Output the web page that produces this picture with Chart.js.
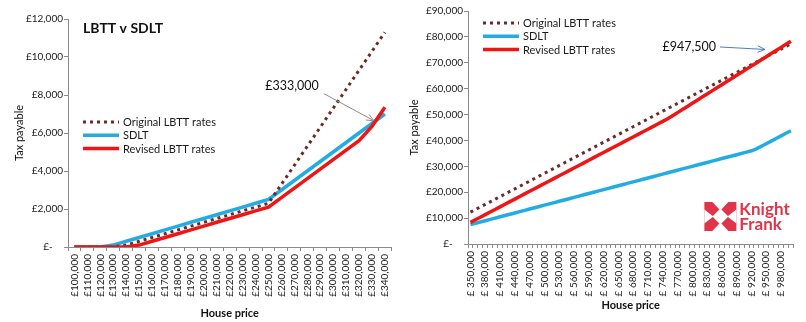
<!DOCTYPE html>
<html><head><meta charset="utf-8">
<script src="https://cdn.jsdelivr.net/npm/chart.js@4.4.0/dist/chart.umd.min.js"></script>
<style>
html,body{margin:0;padding:0;background:#fff;}
#wrap{position:relative;width:806px;height:322px;overflow:hidden;background:#fff;}
.box{position:absolute;top:0;height:322px;}
#b1{left:0;width:400px}
#b2{left:400px;width:406px}
</style></head><body>
<div id="wrap"><div class="box" id="b1"><canvas id="c1"></canvas></div><div class="box" id="b2"><canvas id="c2"></canvas></div></div>
<script>
// ---------- DATA ----------
const seriesNames = ['Original LBTT rates', 'SDLT', 'Revised LBTT rates'];

const leftCategories = ['£100,000','£110,000','£120,000','£130,000','£140,000','£150,000','£160,000','£170,000','£180,000','£190,000','£200,000','£210,000','£220,000','£230,000','£240,000','£250,000','£260,000','£270,000','£280,000','£290,000','£300,000','£310,000','£320,000','£330,000','£340,000'];
const leftOriginal = [0,0,0,0,100,300,500,700,900,1100,1300,1500,1700,1900,2100,2300,3300,4300,5300,6300,7300,8300,9300,10300,11300];
const leftSDLT     = [0,0,0,100,300,500,700,900,1100,1300,1500,1700,1900,2100,2300,2500,3000,3500,4000,4500,5000,5500,6000,6500,7000];
const leftRevised  = [0,0,0,0,0,100,300,500,700,900,1100,1300,1500,1700,1900,2100,2600,3100,3600,4100,4600,5100,5600,6350,7350];
const leftYTicks = [0,2000,4000,6000,8000,10000,12000];

const rightCategories = ['£ 350,000','£ 360,000','£ 370,000','£ 380,000','£ 390,000','£ 400,000','£ 410,000','£ 420,000','£ 430,000','£ 440,000','£ 450,000','£ 460,000','£ 470,000','£ 480,000','£ 490,000','£ 500,000','£ 510,000','£ 520,000','£ 530,000','£ 540,000','£ 550,000','£ 560,000','£ 570,000','£ 580,000','£ 590,000','£ 600,000','£ 610,000','£ 620,000','£ 630,000','£ 640,000','£ 650,000','£ 660,000','£ 670,000','£ 680,000','£ 690,000','£ 700,000','£ 710,000','£ 720,000','£ 730,000','£ 740,000','£ 750,000','£ 760,000','£ 770,000','£ 780,000','£ 790,000','£ 800,000','£ 810,000','£ 820,000','£ 830,000','£ 840,000','£ 850,000','£ 860,000','£ 870,000','£ 880,000','£ 890,000','£ 900,000','£ 910,000','£ 920,000','£ 930,000','£ 940,000','£ 950,000','£ 960,000','£ 970,000','£ 980,000','£ 990,000','£ 1,000,000'];
const rightOriginal = [12300,13300,14300,15300,16300,17300,18300,19300,20300,21300,
  22300,23300,24300,25300,26300,27300,28300,29300,30300,31300,
  32300,33300,34300,35300,36300,37300,38300,39300,40300,41300,
  42300,43300,44300,45300,46300,47300,48300,49300,50300,51300,
  52300,53300,54300,55300,56300,57300,58300,59300,60300,61300,
  62300,63300,64300,65300,66300,67300,68300,69300,70300,71300,
  72300,73300,74300,75300,76300,77300];
const rightSDLT = [7500,8000,8500,9000,9500,10000,10500,11000,11500,12000,
  12500,13000,13500,14000,14500,15000,15500,16000,16500,17000,
  17500,18000,18500,19000,19500,20000,20500,21000,21500,22000,
  22500,23000,23500,24000,24500,25000,25500,26000,26500,27000,
  27500,28000,28500,29000,29500,30000,30500,31000,31500,32000,
  32500,33000,33500,34000,34500,35000,35500,36000,
  36750,37750,38750,39750,40750,41750,42750,43750];
const rightRevised = [8350,9350,10350,11350,12350,13350,14350,15350,16350,17350,
  18350,19350,20350,21350,22350,23350,24350,25350,26350,27350,
  28350,29350,30350,31350,32350,33350,34350,35350,36350,37350,
  38350,39350,40350,41350,42350,43350,44350,45350,46350,47350,
  48350,49550,50750,51950,53150,54350,55550,56750,57950,59150,
  60350,61550,62750,63950,65150,66350,67550,68750,69950,71150,
  72350,73550,74750,75950,77150,78350];
const rightYTicks = [0,10000,20000,30000,40000,50000,60000,70000,80000,90000];

const leftTitle = 'LBTT v SDLT';
const leftNote = '£333,000';
const rightNote = '£947,500';

// ---------- STYLE ----------
const FONT = 'Lato, "Open Sans", "DejaVu Sans", sans-serif';
Chart.defaults.font.family = FONT;
Chart.defaults.color = '#1a1a1a';
const COL_ORIG = '#6b2a2a', COL_SDLT = '#22ace2', COL_REV = '#ee1515';
const AXIS = '#8a8a8a';

function fmtY(v){ return v === 0 ? '£-\u00a0\u00a0\u00a0\u00a0' : '£' + v.toLocaleString('en-GB'); }

function datasets(o, s, r){
  return [
    {label: seriesNames[0], data: o, borderColor: COL_ORIG, borderWidth: 3, borderDash: [3,4], pointRadius: 0, order: 1, tension: 0},
    {label: seriesNames[1], data: s, borderColor: COL_SDLT, borderWidth: 3.5, pointRadius: 0, order: 2, tension: 0},
    {label: seriesNames[2], data: r, borderColor: COL_REV, borderWidth: 3.5, pointRadius: 0, order: 0, tension: 0}
  ];
}

function drawArrow(ctx, x1, y1, x2, y2, color){
  ctx.save();
  ctx.strokeStyle = color; ctx.lineWidth = 1;
  ctx.beginPath(); ctx.moveTo(x1, y1); ctx.lineTo(x2, y2); ctx.stroke();
  const ang = Math.atan2(y2 - y1, x2 - x1), L = 8, w = 0.42;
  ctx.beginPath();
  ctx.moveTo(x2 - L*Math.cos(ang - w), y2 - L*Math.sin(ang - w));
  ctx.lineTo(x2, y2);
  ctx.lineTo(x2 - L*Math.cos(ang + w), y2 - L*Math.sin(ang + w));
  ctx.stroke();
  ctx.restore();
}

const overlay = {
  id: 'overlay',
  afterDraw(chart, args, o){
    const ctx = chart.ctx, a = chart.chartArea;
    const xs = chart.scales.x, ys = chart.scales.y;
    ctx.save();
    if (o.title){
      ctx.font = 'bold 14px ' + FONT; ctx.fillStyle = '#111';
      ctx.textBaseline = 'middle'; ctx.textAlign = 'left';
      ctx.fillText(o.title, a.left + 15, a.top + 9);
    }
    // legend
    const lx = a.left + o.legend.x;
    chart.data.datasets.forEach((d, i) => {
      const y = a.top + o.legend.y + i*13.3;
      ctx.save();
      ctx.strokeStyle = d.borderColor; ctx.lineWidth = d.borderWidth;
      ctx.setLineDash(d.borderDash || []);
      ctx.beginPath(); ctx.moveTo(lx, y); ctx.lineTo(lx + 36, y); ctx.stroke();
      ctx.restore();
      ctx.font = '11px ' + FONT; ctx.fillStyle = '#1a1a1a';
      ctx.textBaseline = 'middle'; ctx.textAlign = 'left';
      ctx.fillText(d.label, lx + 40, y + 0.5);
    });
    // annotation
    if (o.note){
      const n = o.note;
      const tx = xs.getPixelForValue(n.index) + n.tipDx;
      const ty = ys.getPixelForValue(n.value) + n.tipDy;
      drawArrow(ctx, tx + n.fromDx, ty + n.fromDy, tx, ty, n.color);
      ctx.font = '12.5px ' + FONT; ctx.fillStyle = '#111';
      ctx.textBaseline = 'middle'; ctx.textAlign = 'right';
      ctx.fillText(n.text, tx + n.textDx, ty + n.textDy);
    }
    // logo
    if (o.logo){
      const red = '#e1344a';
      const s = 32, h = 29;
      const x0 = a.right - 89, y0 = a.bottom - 42;
      ctx.fillStyle = red;
      ctx.fillRect(x0, y0, s, h);
      ctx.fillStyle = '#fff';
      const cx = x0 + s/2, cy = y0 + h/2;
      ctx.beginPath();
      ctx.moveTo(cx, cy - 8); ctx.lineTo(cx + 8, cy); ctx.lineTo(cx, cy + 8); ctx.lineTo(cx - 8, cy); ctx.closePath(); ctx.fill();
      // edge notches
      ctx.beginPath(); ctx.moveTo(cx - 8, y0); ctx.lineTo(cx + 8, y0); ctx.lineTo(cx, cy - 6); ctx.closePath(); ctx.fill();
      ctx.beginPath(); ctx.moveTo(cx - 8, y0 + h); ctx.lineTo(cx + 8, y0 + h); ctx.lineTo(cx, cy + 6); ctx.closePath(); ctx.fill();
      ctx.beginPath(); ctx.moveTo(x0, cy - 7); ctx.lineTo(x0, cy + 7); ctx.lineTo(cx - 7, cy); ctx.closePath(); ctx.fill();
      ctx.beginPath(); ctx.moveTo(x0 + s, cy - 7); ctx.lineTo(x0 + s, cy + 7); ctx.lineTo(cx + 7, cy); ctx.closePath(); ctx.fill();
      ctx.fillStyle = red;
      ctx.font = 'bold 17px ' + FONT; ctx.textAlign = 'left'; ctx.textBaseline = 'alphabetic';
      ctx.fillText('Knight', x0 + 35, y0 + 13);
      ctx.fillText('Frank', x0 + 35, y0 + 28);
    }
    ctx.restore();
  }
};

function baseOptions(cfg){
  return {
    responsive: true, maintainAspectRatio: false, animation: false,
    layout: {padding: cfg.padding},
    plugins: {legend: {display: false}, tooltip: {enabled: false}, overlay: cfg.overlay},
    scales: {
      x: {
        type: 'category', offset: true,
        grid: {display: true, drawOnChartArea: false, drawTicks: true, tickLength: 4, color: AXIS, offset: true},
        border: {color: AXIS, width: 1},
        ticks: {autoSkip: false, maxRotation: 90, minRotation: 90, font: {size: 10}, padding: 3, color: '#1a1a1a',
                callback: cfg.xCallback},
        title: {display: true, text: 'House price', font: {size: 11, weight: 'bold'}, color: '#111', padding: cfg.xTitlePad},
        afterFit: s => { s.height = cfg.xHeight; }
      },
      y: {
        min: cfg.yTicks[0], max: cfg.yTicks[cfg.yTicks.length - 1],
        afterBuildTicks: s => { s.ticks = cfg.yTicks.map(v => ({value: v})); },
        grid: {display: true, drawOnChartArea: false, drawTicks: true, tickLength: 4, color: AXIS},
        border: {color: AXIS, width: 1},
        ticks: {font: {size: 10}, padding: 1, color: '#1a1a1a', callback: v => fmtY(v)},
        title: {display: true, text: 'Tax payable', font: {size: 11}, color: '#111', padding: cfg.yTitlePad},
        afterFit: s => { s.width = 68; }
      }
    }
  };
}

new Chart(document.getElementById('c1'), {
  type: 'line',
  data: {labels: leftCategories, datasets: datasets(leftOriginal, leftSDLT, leftRevised)},
  options: baseOptions({
    padding: {left: 0, top: 19, right: 5, bottom: 0},
    yTicks: leftYTicks, xHeight: 75,
    xTitlePad: {top: 2, bottom: 2}, yTitlePad: {top: 13, bottom: 0},
    xCallback: function(v, i){ return this.getLabelForValue(v); },
    overlay: {
      title: leftTitle,
      legend: {x: 15, y: 103},
      note: {text: leftNote, index: 23.3, value: 6650, tipDx: -2, tipDy: 0, fromDx: -50, fromDy: -27, textDx: -55, textDy: -35, color: '#8c8c8c'}
    }
  }),
  plugins: [overlay]
});

new Chart(document.getElementById('c2'), {
  type: 'line',
  data: {labels: rightCategories, datasets: datasets(rightOriginal, rightSDLT, rightRevised)},
  options: baseOptions({
    padding: {left: 0, top: 11, right: 12, bottom: 0},
    yTicks: rightYTicks, xHeight: 78,
    xTitlePad: {top: 10, bottom: 10}, yTitlePad: {top: 8, bottom: 0},
    xCallback: function(v, i){ return i % 3 === 0 ? this.getLabelForValue(v) : ''; },
    overlay: {
      legend: {x: 15, y: 12},
      note: {text: rightNote, index: 59.75, value: 72050, tipDx: 0, tipDy: -8, fromDx: -45, fromDy: -2.5, textDx: -49, textDy: -2.5, color: '#4a7ebb'},
      logo: true
    }
  }),
  plugins: [overlay]
});
</script>
</body></html>
